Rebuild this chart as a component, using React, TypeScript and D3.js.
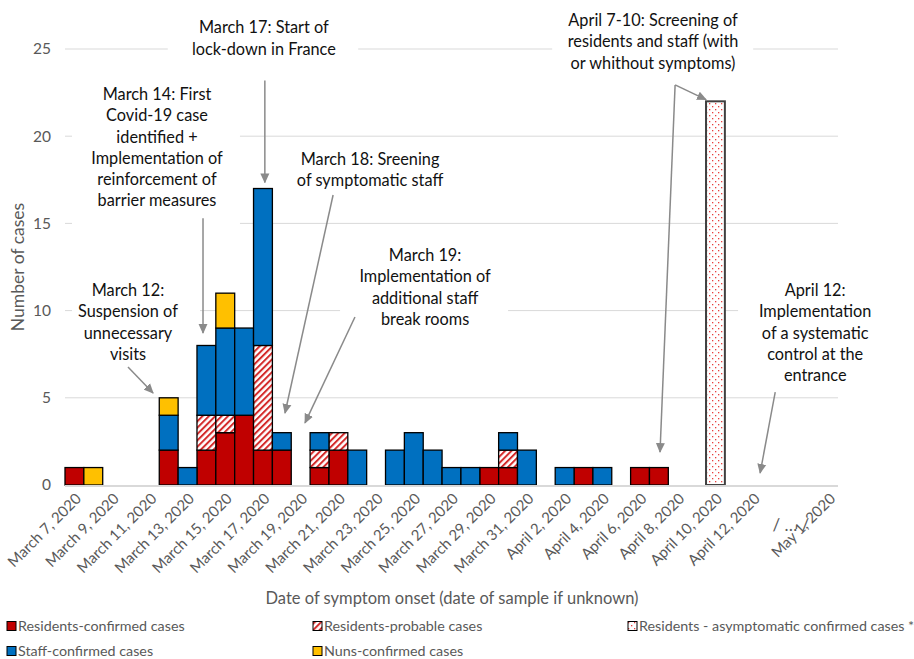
import * as d3 from "d3";

// categories along the x axis (text axis, one per day + a break before May 1)
const categories = [
  "March 7, 2020", "March 8, 2020", "March 9, 2020", "March 10, 2020", "March 11, 2020",
  "March 12, 2020", "March 13, 2020", "March 14, 2020", "March 15, 2020", "March 16, 2020",
  "March 17, 2020", "March 18, 2020", "March 19, 2020", "March 20, 2020", "March 21, 2020",
  "March 22, 2020", "March 23, 2020", "March 24, 2020", "March 25, 2020", "March 26, 2020",
  "March 27, 2020", "March 28, 2020", "March 29, 2020", "March 30, 2020", "March 31, 2020",
  "April 1, 2020", "April 2, 2020", "April 3, 2020", "April 4, 2020", "April 5, 2020",
  "April 6, 2020", "April 7, 2020", "April 8, 2020", "April 9, 2020", "April 10, 2020",
  "April 11, 2020", "April 12, 2020", "", "/…/", "", "May 1, 2020",
];

const residentsConfirmed = [1,0,0,0,0,2,0,2,3,4, 2,2,0,1,2,0,0,0,0,0, 0,0,1,1,0,0,0,1,0,0, 1,1,0,0,0,0,0,0,0,0, 0];
const residentsProbable = [0,0,0,0,0,0,0,2,1,0, 6,0,0,1,1,0,0,0,0,0, 0,0,0,1,0,0,0,0,0,0, 0,0,0,0,0,0,0,0,0,0, 0];
const residentsAsymptomatic = [0,0,0,0,0,0,0,0,0,0, 0,0,0,0,0,0,0,0,0,0, 0,0,0,0,0,0,0,0,0,0, 0,0,0,0,22,0,0,0,0,0, 0];
const staffConfirmed = [0,0,0,0,0,2,1,4,5,5, 9,1,0,1,0,2,0,2,3,2, 1,1,0,1,2,0,1,0,1,0, 0,0,0,0,0,0,0,0,0,0, 0];
const nunsConfirmed = [0,1,0,0,0,1,0,0,2,0, 0,0,0,0,0,0,0,0,0,0, 0,0,0,0,0,0,0,0,0,0, 0,0,0,0,0,0,0,0,0,0, 0];

const yTicks = [0, 5, 10, 15, 20, 25];

const series = [
  { key: "rc", label: "Residents-confirmed cases", values: residentsConfirmed, fill: "#C00000", stroke: "#000", sw: 1.3 },
  { key: "rp", label: "Residents-probable cases", values: residentsProbable, fill: "url(#hatch)", stroke: "#000", sw: 1.3 },
  { key: "ra", label: "Residents - asymptomatic confirmed cases *", values: residentsAsymptomatic, fill: "url(#dots)", stroke: "#404040", sw: 2 },
  { key: "sc", label: "Staff-confirmed cases", values: staffConfirmed, fill: "#0070C0", stroke: "#000", sw: 1.3 },
  { key: "nc", label: "Nuns-confirmed cases", values: nunsConfirmed, fill: "#FFC000", stroke: "#000", sw: 1.3 },
];

// legend order / slots
const legendOrder = ["rc", "rp", "ra", "sc", "nc"];

// annotations in data units: c = category position (fractional), v = value
const annotations = [
  { lines: ["March 17: Start of", "lock-down in France"], c: 10.55, v: 25.9,
    box: [5.45, 15.55, 27.3, 23.5], arrows: [[10.6, 23.2, 10.6, 17.35]] },
  { lines: ["March 14: First", "Covid-19 case", "identified +", "Implementation of", "reinforcement of", "barrier measures"],
    c: 4.88, v: 22.08, box: [0.37, 9.28, 23.2, 14.7], arrows: [[7.32, 15.3, 7.32, 8.72]] },
  { lines: ["March 12:", "Suspension of", "unnecessary", "visits"], c: 3.34, v: 10.84,
    box: [0.37, 7.16, 12.0, 6.9], arrows: [[3.34, 6.77, 4.67, 5.28]] },
  { lines: ["March 18: Sreening", "of symptomatic staff"], c: 16.18, v: 18.35,
    box: null, arrows: [[14.22, 16.63, 11.67, 4.13]] },
  { lines: ["March 19:", "Implementation of", "additional staff", "break rooms"], c: 19.1, v: 12.84,
    box: [14.59, 23.5, 14.05, 8.6], arrows: [[15.38, 9.63, 12.73, 3.56]] },
  { lines: ["April 7-10: Screening of", "residents and staff (with", "or whithout symptoms)"], c: 31.19, v: 26.32,
    box: [25.84, 36.5, 27.5, 23.5], arrows: [[32.36, 22.94, 34.0, 22.1], [32.36, 22.94, 31.56, 1.89]] },
  { lines: ["April 12:", "Implementation", "of a systematic", "control at the", "entrance"], c: 39.79, v: 10.84,
    box: [35.7, 41.2, 12.0, 5.4], arrows: [[37.67, 5.33, 36.87, 0.69]] },
];

const W = 914;
const H = 659;
const FONT = "Lato, 'Open Sans', sans-serif";
const GRAY = "#595959";

export default function App() {
  const x = d3.scaleBand<number>().domain(d3.range(categories.length)).range([65, 838]).padding(0);
  const y = d3.scaleLinear().domain([0, 25]).range([485, 49]);
  const bw = x.bandwidth();
  const cx = (c: number) => 65 + c * bw;

  const table = categories.map((_, i) => {
    const row: Record<string, number> = {};
    series.forEach((s) => (row[s.key] = s.values[i]));
    return row;
  });
  const stacked = d3.stack<Record<string, number>>().keys(series.map((s) => s.key))(table);

  const lineH = 21.3;

  return (
    <>
      <style>{"body{margin:0}"}</style>
      <svg width={W} height={H} style={{ display: "block", fontFamily: FONT }}>
        <defs>
          <pattern id="hatch" width="4.5" height="4.5" patternUnits="userSpaceOnUse" patternTransform="rotate(45)">
            <rect width="4.5" height="4.5" fill="#fff" />
            <rect width="2" height="4.5" fill="#D42A2A" />
          </pattern>
          <pattern id="dots" width="6" height="6" patternUnits="userSpaceOnUse">
            <rect width="6" height="6" fill="#fff" />
            <rect x="1" y="1" width="1.3" height="1.3" fill="#E8403F" />
            <rect x="4" y="4" width="1.3" height="1.3" fill="#E8403F" />
          </pattern>
          <marker id="ahb" viewBox="0 0 10 10" refX="9" refY="5" markerWidth="10" markerHeight="10"
            markerUnits="userSpaceOnUse" orient="auto">
            <path d="M0,0.5 L10,5 L0,9.5 z" fill="#8A8A8A" />
          </marker>
        </defs>

        {/* gridlines */}
        {yTicks.filter((t) => t > 0).map((t) => (
          <line key={t} x1={65} x2={838} y1={y(t)} y2={y(t)} stroke="#D9D9D9" strokeWidth={1} />
        ))}
        {yTicks.map((t) => (
          <text key={t} x={51} y={y(t)} dy="0.35em" textAnchor="end" fontSize={15.5} fill={GRAY}>{t}</text>
        ))}

        {/* annotation backgrounds hide the gridlines */}
        {annotations.map((a, i) =>
          a.box ? (
            <rect key={i} x={cx(a.box[0])} width={cx(a.box[1]) - cx(a.box[0])} y={y(a.box[2])}
              height={y(a.box[3]) - y(a.box[2])} fill="#fff" />
          ) : null
        )}

        {/* bars */}
        {stacked.map((layer, li) => {
          const s = series[li];
          return (
            <g key={s.key}>
              {layer.map((d, i) =>
                d[1] - d[0] > 0 ? (
                  <rect key={i} x={x(i)} width={bw} y={y(d[1])} height={y(d[0]) - y(d[1])}
                    fill={s.fill} stroke={s.stroke} strokeWidth={s.sw} />
                ) : null
              )}
            </g>
          );
        })}

        {/* x axis line */}
        <line x1={65} x2={838} y1={y(0) + 1} y2={y(0) + 1} stroke="#D9D9D9" strokeWidth={2} />

        {/* x tick labels */}
        {categories.map((c, i) => {
          if (i % 2 !== 0 || !c) return null;
          const px = (x(i) as number) + bw / 2 + 4;
          if (c === "/…/") {
            return (
              <text key={i} x={px - 4} y={531} textAnchor="middle" fontSize={17} fill={GRAY}>/ … /</text>
            );
          }
          return (
            <text key={i} transform={`translate(${px},${496}) rotate(-45)`} textAnchor="end" dy="0.35em"
              fontSize={15} fill={GRAY}>{c}</text>
          );
        })}

        {/* axis titles */}
        <text transform={`translate(24,${(y(0) + y(25)) / 2}) rotate(-90)`} textAnchor="middle" fontSize={17.5} fill={GRAY}>
          Number of cases
        </text>
        <text x={452} y={604} textAnchor="middle" fontSize={16.5} fill={GRAY}>
          Date of symptom onset (date of sample if unknown)
        </text>

        {/* annotations */}
        {annotations.map((a, i) => (
          <g key={i}>
            {a.lines.map((l, j) => (
              <text key={j} x={cx(a.c)} y={y(a.v) + j * lineH} textAnchor="middle" fontSize={16.3} fill="#111">{l}</text>
            ))}
            {a.arrows.map((r, k) => (
              <line key={k} x1={cx(r[0])} y1={y(r[1])} x2={cx(r[2])} y2={y(r[3])} stroke="#8A8A8A" strokeWidth={1.5}
                markerEnd="url(#ahb)" />
            ))}
          </g>
        ))}

        {/* legend */}
        {legendOrder.map((k, i) => {
          const s = series.find((d) => d.key === k)!;
          const col = i < 3 ? i : i - 3;
          const row = i < 3 ? 0 : 1;
          const lx = [7, 313, 628][col];
          const ly = [626, 651][row];
          return (
            <g key={k}>
              <rect x={lx} y={ly - 4.5} width={9} height={9} fill={s.fill} stroke="#000" strokeWidth={1} />
              <text x={lx + 11} y={ly} dy="0.35em" fontSize={14.3} fill={GRAY}>{s.label}</text>
            </g>
          );
        })}
      </svg>
    </>
  );
}
